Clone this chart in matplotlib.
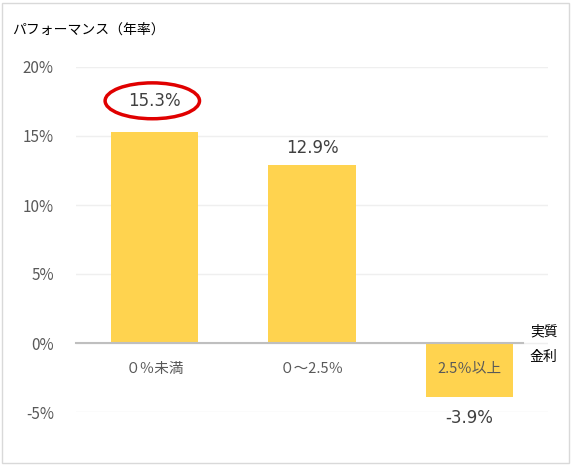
import matplotlib
matplotlib.use("Agg")
import matplotlib.pyplot as plt
from matplotlib.patches import Ellipse, Rectangle

plt.rcParams['font.family'] = ['Noto Sans CJK JP', 'DejaVu Sans']

categories = ["０％未満", "０～2.5％", "2.5％以上"]
values = [15.3, 12.9, -3.9]
value_labels = ["15.3%", "12.9%", "-3.9%"]
yticks = [-5, 0, 5, 10, 15, 20]
ytick_labels = ["-5%", "0%", "5%", "10%", "15%", "20%"]

W, H = 572, 465
fig = plt.figure(figsize=(W / 100, H / 100), dpi=100)
fig.patches.append(Rectangle((2 / W, 2 / H), (W - 5) / W, (H - 5) / H, transform=fig.transFigure,
                             fill=False, edgecolor="#D9D9D9", linewidth=1))

ax = fig.add_axes([76 / W, 1 - 412 / H, (548 - 76) / W, (412 - 67) / H])
x = list(range(len(categories)))
ax.bar(x, values, width=0.555, color="#FFD34F", zorder=2)
ax.set_xlim(-0.5, 2.5)
ax.set_ylim(-5, 20)
ax.set_yticks(yticks)
ax.set_yticklabels(ytick_labels, fontsize=11, color="#595959")
ax.tick_params(axis="y", length=0, pad=16)
ax.set_xticks([])
for s in ax.spines.values():
    s.set_visible(False)
ax.grid(axis="y", color="#EFEFEF", linewidth=1, zorder=0)
ax.set_axisbelow(True)
ax.plot([-0.5, 2.34], [0, 0], color="#BFBFBF", linewidth=1.5, zorder=3, clip_on=False)

# value labels
offsets = [2.25, 1.23, -1.53]
for xi, v, lab, off in zip(x, values, value_labels, offsets):
    ax.text(xi, v + off, lab, ha="center", va="center", fontsize=12, color="#404040",
            family=['DejaVu Sans'], clip_on=False)

# category labels
for xi, c in zip(x, categories):
    ax.text(xi, -1.85, c, ha="center", va="center", fontsize=10.5, color="#595959", zorder=4)

# red ellipse
ax.add_patch(Ellipse((-0.015, 17.55), 0.6, 2.6, fill=False, edgecolor="#E00000",
                     linewidth=2.5, zorder=5, clip_on=False))

fig.text(530 / W, 1 - 331 / H, "実質", fontsize=10, color="#000000", va="center", ha="left")
fig.text(530 / W, 1 - 357 / H, "金利", fontsize=10, color="#000000", va="center", ha="left")
fig.text(12 / W, 1 - 30 / H, "パフォーマンス（年率）", fontsize=10, color="#000000", va="center", ha="left")

fig.savefig("out.png", dpi=100)
